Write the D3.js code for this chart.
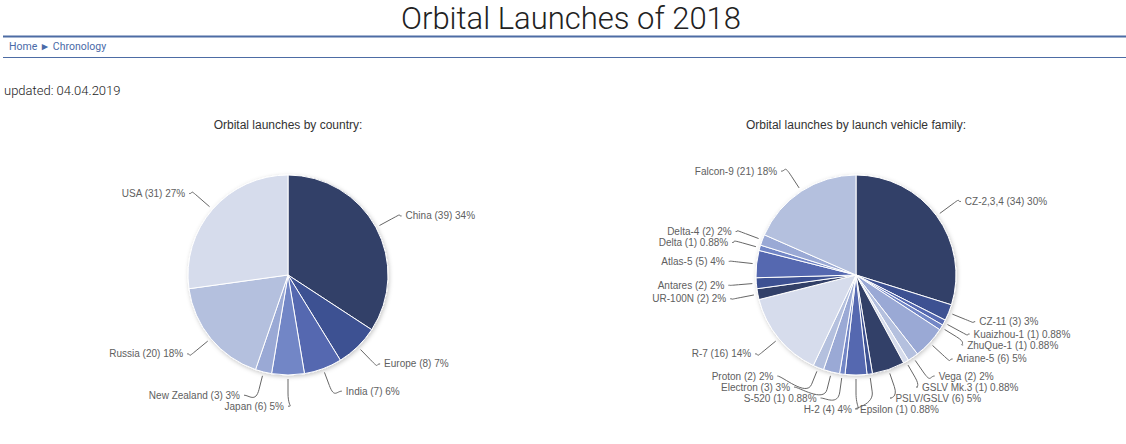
<!DOCTYPE html>
<html>
<head>
<meta charset="utf-8">
<script src="https://cdn.jsdelivr.net/npm/d3@7"></script>
<style>
  body { margin: 0; background: #fff; }
  svg { display: block; }
</style>
</head>
<body>
<div class="grafico"></div>
<script>
const width = 1126;
const height = 444;

// data
const countries = ["China", "Europe", "India", "Japan", "New Zealand", "Russia", "USA"];
const countryLaunches = [39, 8, 7, 6, 3, 20, 31];

const vehicles = ["CZ-2,3,4", "CZ-11", "Kuaizhou-1", "ZhuQue-1", "Ariane-5", "Vega",
    "GSLV Mk.3", "PSLV/GSLV", "Epsilon", "H-2", "S-520", "Electron", "Proton", "R-7",
    "UR-100N", "Antares", "Atlas-5", "Delta", "Delta-4", "Falcon-9"];
const vehicleLaunches = [34, 3, 1, 1, 6, 2, 1, 6, 1, 4, 1, 3, 2, 16, 2, 2, 5, 1, 2, 21];

const palette = ["#323f68", "#3e5192", "#5468b0", "#7286c6", "#9aa9d5", "#b4c0de", "#d6dcec"];

const svg = d3.select(".grafico")
    .append("svg")
    .attr("width", width)
    .attr("height", height);

const defs = svg.append("defs");
defs.append("filter")
    .attr("id", "shadow")
    .attr("x", "-20%").attr("y", "-20%")
    .attr("width", "140%").attr("height", "140%")
    .append("feDropShadow")
    .attr("dx", 1).attr("dy", 1.5)
    .attr("stdDeviation", 2)
    .attr("flood-color", "#000")
    .attr("flood-opacity", 0.22);

// page header
svg.append("text")
    .attr("x", 571).attr("y", 28.5)
    .attr("text-anchor", "middle")
    .style("font", "300 31px Roboto")
    .attr("fill", "#222")
    .text("Orbital Launches of 2018");

svg.append("line")
    .attr("x1", 3).attr("x2", width).attr("y1", 36.5).attr("y2", 36.5)
    .attr("stroke", "#4d6ca4").attr("stroke-width", 2);
svg.append("line")
    .attr("x1", 3).attr("x2", width).attr("y1", 57.5).attr("y2", 57.5)
    .attr("stroke", "#4d6ca4").attr("stroke-width", 1);

svg.append("text")
    .attr("x", 9).attr("y", 50)
    .style("font", "400 10.5px Roboto")
    .attr("fill", "#4a6aa8")
    .text("Home \u25BA Chronology");

svg.append("text")
    .attr("x", 4).attr("y", 95)
    .style("font", "300 13px Roboto")
    .attr("fill", "#222")
    .text("updated: 04.04.2019");

function fmtPct(p) {
    return p < 1 ? p.toFixed(2) : String(Math.round(p));
}

function drawPie(names, values, cx, cy, r, title) {
    const total = d3.sum(values);
    const g = svg.append("g");

    g.append("text")
        .attr("x", cx).attr("y", 129)
        .attr("text-anchor", "middle")
        .style("font", "12px 'Liberation Sans', Arial, sans-serif")
        .attr("fill", "#333")
        .text(title);

    const pie = d3.pie().value(d => d).sort(null);
    const arc = d3.arc().innerRadius(0).outerRadius(r);
    const arcs = pie(values);

    g.append("g")
        .attr("transform", `translate(${cx}, ${cy})`)
        .attr("filter", "url(#shadow)")
        .selectAll("path")
        .data(arcs)
        .enter().append("path")
        .attr("d", arc)
        .attr("fill", (d, i) => palette[i % palette.length])
        .attr("stroke", "white")
        .attr("stroke-width", 1);

    // label layout: natural position, then push apart on each side
    const polar = (a, rr) => [cx + Math.sin(a) * rr, cy - Math.cos(a) * rr];
    const items = arcs.map((d, i) => {
        const mid = (d.startAngle + d.endAngle) / 2;
        return {
            i: i,
            mid: mid,
            side: mid < Math.PI - 1e-6 ? 1 : -1,
            y: cy - Math.cos(mid) * (r + 24),
            text: `${names[i]} (${values[i]}) ${fmtPct(values[i] / total * 100)}%`
        };
    });

    const gap = 11, top = cy - r - 35, bottom = cy + r + 34;
    [1, -1].forEach(side => {
        const list = items.filter(d => d.side === side).sort((a, b) => a.y - b.y);
        for (let k = 1; k < list.length; k++) {
            list[k].y = Math.max(list[k].y, list[k - 1].y + gap);
        }
        if (list.length) list[list.length - 1].y = Math.min(list[list.length - 1].y, bottom);
        for (let k = list.length - 2; k >= 0; k--) {
            list[k].y = Math.min(list[k].y, list[k + 1].y - gap);
        }
        list.forEach(d => { d.y = Math.max(d.y, top); });
    });

    const R = r + 28;
    items.forEach(d => {
        const dy = d.y - cy;
        d.x = cx + d.side * Math.sqrt(Math.max(0, R * R - dy * dy));
        const b = polar(d.mid, r + 18);
        const e = polar(d.mid, r + 4);
        d.path = `M${d.x},${d.y} C${d.x - 5 * d.side},${d.y} ${2 * b[0] - e[0]},${2 * b[1] - e[1]} ${b[0]},${b[1]} L${e[0]},${e[1]}`;
    });

    g.append("g").selectAll("path")
        .data(items)
        .enter().append("path")
        .attr("d", d => d.path)
        .attr("fill", "none")
        .attr("stroke", "#666")
        .attr("stroke-width", 1);

    g.append("g").selectAll("text")
        .data(items)
        .enter().append("text")
        .attr("x", d => d.x + 4 * d.side)
        .attr("y", d => d.y)
        .attr("dy", "0.35em")
        .attr("text-anchor", d => d.side > 0 ? "start" : "end")
        .style("font", "10px 'Liberation Sans', Arial, sans-serif")
        .attr("fill", "#606060")
        .text(d => d.text);
}

drawPie(countries, countryLaunches, 288, 275, 100, "Orbital launches by country:");
drawPie(vehicles, vehicleLaunches, 856, 275, 100, "Orbital launches by launch vehicle family:");
</script>
</body>
</html>
